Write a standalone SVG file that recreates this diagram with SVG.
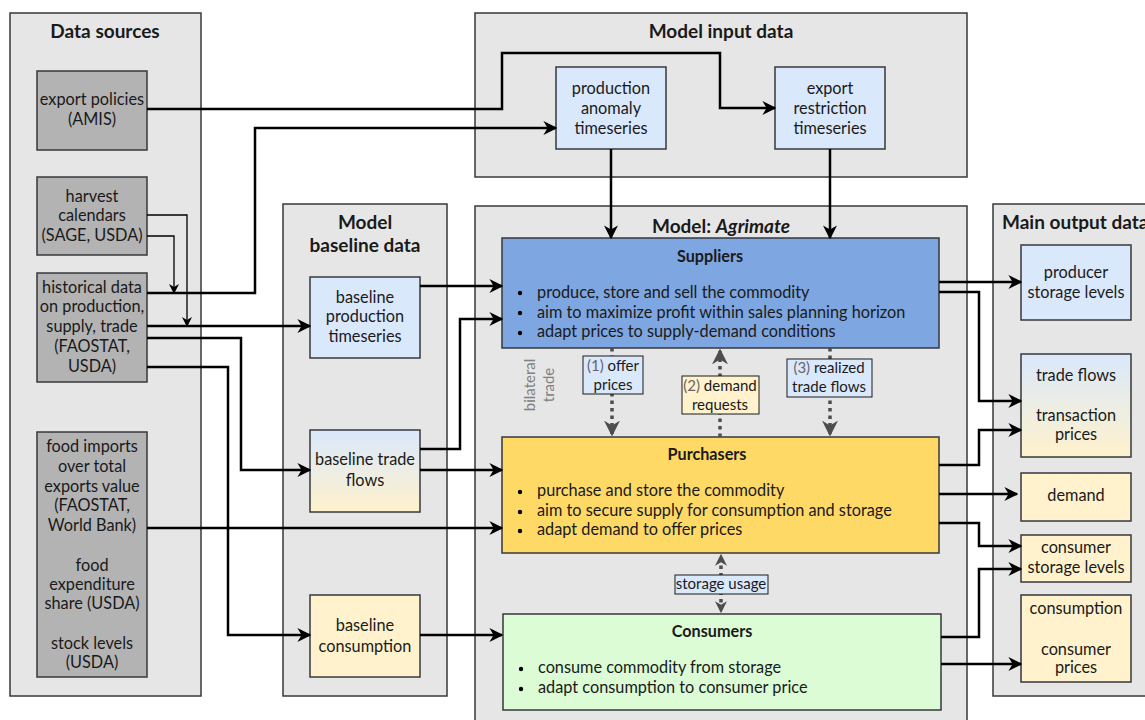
<svg xmlns="http://www.w3.org/2000/svg" width="1145" height="720" viewBox="0 0 1145 720">
<defs>
<linearGradient id="gbY" x1="0" y1="0" x2="0" y2="1"><stop offset="0" stop-color="#dae8fc"/><stop offset="1" stop-color="#fff2cc"/></linearGradient>
<marker id="ah" markerUnits="userSpaceOnUse" markerWidth="14" markerHeight="14" viewBox="0 0 10 10" refX="9" refY="5" orient="auto"><path d="M0,0 L10,5 L0,10 L3,5 z" fill="#000"/></marker>
<marker id="ahs" markerUnits="userSpaceOnUse" markerWidth="10" markerHeight="10" viewBox="0 0 10 10" refX="9" refY="5" orient="auto"><path d="M0,0 L10,5 L0,10 L3,5 z" fill="#000"/></marker>
<marker id="ahg" markerUnits="userSpaceOnUse" markerWidth="16" markerHeight="16" viewBox="0 0 10 10" refX="9" refY="5" orient="auto"><path d="M0,0 L10,5 L0,10 L3,5 z" fill="#4d4d4d"/></marker>
<marker id="ahg2" markerUnits="userSpaceOnUse" markerWidth="12" markerHeight="12" viewBox="0 0 10 10" refX="9" refY="5" orient="auto"><path d="M0,0 L10,5 L0,10 L3,5 z" fill="#4d4d4d"/></marker>
</defs>
<style>
text{font-family:Lato,"Liberation Sans",sans-serif;fill:#1a1a1a}
.c{fill:#e6e6e6;stroke:#36393d;stroke-width:1.5}
.t{font-size:19px;font-weight:bold;text-anchor:middle}
.n{font-size:16.3px;text-anchor:middle}
.g{fill:#b3b3b3;stroke:#36393d;stroke-width:1.5}
.b{fill:#dae8fc;stroke:#36393d;stroke-width:1.5}
.y{fill:#fff2cc;stroke:#36393d;stroke-width:1.5}
.gr{fill:url(#gbY);stroke:#36393d;stroke-width:1.5}
.h{font-size:16.2px;font-weight:bold;text-anchor:middle}
.bl{font-size:16.3px}
.lab{font-size:15px;text-anchor:middle}
.num{fill:#666}
.w{fill:none;stroke:#000;stroke-width:2.5;marker-end:url(#ah)}
.s{fill:none;stroke:#000;stroke-width:1.3;marker-end:url(#ahs)}
.d{fill:none;stroke:#4d4d4d;stroke-width:3.5;stroke-dasharray:3.5 4}
</style>

<g id="containers">
<rect class="c" x="10" y="13" width="191" height="683"/>
<text class="t" x="105" y="38">Data sources</text>
<rect class="c" x="283" y="204" width="164" height="492"/>
<text class="t" x="365" y="229">Model</text>
<text class="t" x="365" y="252">baseline data</text>
<rect class="c" x="475" y="13" width="492" height="164"/>
<text class="t" x="721" y="38">Model input data</text>
<rect class="c" x="475" y="206" width="492" height="530"/>
<text class="t" x="721" y="233">Model: <tspan font-style="italic">Agrimate</tspan></text>
<rect class="c" x="993" y="204" width="180" height="492"/>
<text class="t" x="1002" y="229" style="text-anchor:start">Main output data</text>
</g>

<g id="export-policies"><rect class="g" x="37" y="71" width="110" height="79"/>
<text class="n" x="92" y="105">export policies</text><text class="n" x="92" y="125">(AMIS)</text></g>
<g id="harvest-calendars"><rect class="g" x="37" y="177" width="110" height="78"/>
<text class="n" x="92" y="202">harvest</text><text class="n" x="92" y="221">calendars</text><text class="n" x="92" y="241">(SAGE, USDA)</text></g>
<g id="historical-data"><rect class="g" x="37" y="273" width="110" height="109"/>
<text class="n" x="92" y="293">historical data</text><text class="n" x="92" y="312">on production,</text><text class="n" x="92" y="332">supply, trade</text><text class="n" x="92" y="352">(FAOSTAT,</text><text class="n" x="92" y="372">USDA)</text></g>
<g id="food-imports"><rect class="g" x="37" y="432" width="110" height="245"/>
<text class="n" x="92" y="452">food imports</text><text class="n" x="92" y="472">over total</text><text class="n" x="92" y="492">exports value</text><text class="n" x="92" y="511">(FAOSTAT,</text><text class="n" x="92" y="531">World Bank)</text>
<text class="n" x="92" y="571">food</text><text class="n" x="92" y="590">expenditure</text><text class="n" x="92" y="609">share (USDA)</text>
<text class="n" x="92" y="649">stock levels</text><text class="n" x="92" y="668">(USDA)</text></g>

<g id="baseline-production"><rect class="b" x="310" y="277" width="110" height="81"/>
<text class="n" x="365" y="303">baseline</text><text class="n" x="365" y="322">production</text><text class="n" x="365" y="342">timeseries</text></g>
<g id="baseline-trade"><rect class="gr" x="310" y="430" width="110" height="82"/>
<text class="n" x="365" y="465">baseline trade</text><text class="n" x="365" y="486">flows</text></g>
<g id="baseline-consumption"><rect class="y" x="310" y="595" width="110" height="82"/>
<text class="n" x="365" y="631">baseline</text><text class="n" x="365" y="652">consumption</text></g>

<g id="production-anomaly"><rect class="b" x="556" y="67" width="110" height="82"/>
<text class="n" x="611" y="94">production</text><text class="n" x="611" y="114">anomaly</text><text class="n" x="611" y="134">timeseries</text></g>
<g id="export-restriction"><rect class="b" x="775" y="67" width="110" height="82"/>
<text class="n" x="830" y="94">export</text><text class="n" x="830" y="114">restriction</text><text class="n" x="830" y="134">timeseries</text></g>

<g id="suppliers"><rect x="502" y="238" width="437" height="110" fill="#7ea6e0" stroke="#36393d" stroke-width="1.5"/>
<text class="h" x="710" y="262">Suppliers</text>
<circle cx="520" cy="293" r="2.2" fill="#000"/><text class="bl" x="537" y="298">produce, store and sell the commodity</text>
<circle cx="520" cy="313" r="2.2" fill="#000"/><text class="bl" x="537" y="318">aim to maximize profit within sales planning horizon</text>
<circle cx="520" cy="333" r="2.2" fill="#000"/><text class="bl" x="537" y="337">adapt prices to supply-demand conditions</text></g>
<g id="purchasers"><rect x="502" y="437" width="437" height="116" fill="#ffd966" stroke="#36393d" stroke-width="1.5"/>
<text class="h" x="707" y="460">Purchasers</text>
<circle cx="520" cy="492" r="2.2" fill="#000"/><text class="bl" x="537" y="496">purchase and store the commodity</text>
<circle cx="520" cy="512" r="2.2" fill="#000"/><text class="bl" x="537" y="516">aim to secure supply for consumption and storage</text>
<circle cx="520" cy="531" r="2.2" fill="#000"/><text class="bl" x="537" y="535">adapt demand to offer prices</text></g>
<g id="consumers"><rect x="503" y="614" width="438" height="96" fill="#dcfcd6" stroke="#36393d" stroke-width="1.5"/>
<text class="h" x="712" y="637">Consumers</text>
<circle cx="521" cy="669" r="2.2" fill="#000"/><text class="bl" x="538" y="673">consume commodity from storage</text>
<circle cx="521" cy="689" r="2.2" fill="#000"/><text class="bl" x="538" y="693">adapt consumption to consumer price</text></g>

<g id="producer-storage"><rect class="b" x="1021" y="245" width="110" height="75"/>
<text class="n" x="1076" y="278">producer</text><text class="n" x="1076" y="298">storage levels</text></g>
<g id="trade-flows-out"><rect class="gr" x="1021" y="354" width="110" height="103"/>
<text class="n" x="1076" y="381">trade flows</text><text class="n" x="1076" y="421">transaction</text><text class="n" x="1076" y="440">prices</text></g>
<g id="demand"><rect class="y" x="1021" y="473" width="110" height="48"/>
<text class="n" x="1076" y="501">demand</text></g>
<g id="consumer-storage"><rect class="y" x="1021" y="535" width="110" height="47"/>
<text class="n" x="1076" y="553">consumer</text><text class="n" x="1076" y="573">storage levels</text></g>
<g id="consumption-out"><rect class="y" x="1021" y="595" width="110" height="87"/>
<text class="n" x="1076" y="614">consumption</text><text class="n" x="1076" y="655">consumer</text><text class="n" x="1076" y="673">prices</text></g>

<g id="connectors">
<path class="w" d="M147,109 H502 V53 H720 V108 H775"/>
<path class="w" d="M147,293 H255 V128 H556"/>
<path class="w" d="M147,326 H310"/>
<path class="w" d="M147,338 H241 V470 H310"/>
<path class="w" d="M147,367 H228 V635 H310"/>
<path class="w" d="M147,528 H502"/>
<path class="s" d="M147,215 H187 V326"/>
<path class="s" d="M147,236 H174 V293"/>
<path class="w" d="M420,286 H502"/>
<path class="w" d="M420,449 H460 V319 H502"/>
<path class="w" d="M420,470 H502"/>
<path class="w" d="M420,635 H502"/>
<path class="w" d="M611,149 V238"/>
<path class="w" d="M830,149 V238"/>
<path class="w" d="M939,282 H1021"/>
<path class="w" d="M939,292 H979 V401 H1021"/>
<path class="w" d="M939,465 H979 V430 H1021"/>
<path class="w" d="M939,494 H1017"/>
<path class="w" d="M939,523 H979 V546 H1021"/>
<path class="w" d="M941,637 H979 V569 H1021"/>
<path class="w" d="M941,664 H1021"/>
<path class="d" d="M612,348 V435" marker-end="url(#ahg)"/>
<path class="d" d="M720,437 V350" marker-end="url(#ahg)"/>
<path class="d" d="M830,348 V435" marker-end="url(#ahg)"/>
<path class="d" d="M721,584 V555" marker-end="url(#ahg2)"/>
<path class="d" d="M721,584 V612" marker-end="url(#ahg2)"/>
<g id="edge-labels">
<rect x="583" y="356" width="60" height="38" fill="#dae8fc" stroke="#1a1a1a" stroke-width="1"/>
<text class="lab" x="613" y="371"><tspan class="num">(1)</tspan> offer</text><text class="lab" x="613" y="390">prices</text>
<rect x="682" y="376" width="77" height="38" fill="#fff2cc" stroke="#1a1a1a" stroke-width="1"/>
<text class="lab" x="720" y="391"><tspan class="num">(2)</tspan> demand</text><text class="lab" x="720" y="410">requests</text>
<rect x="787" y="359" width="85" height="38" fill="#dae8fc" stroke="#1a1a1a" stroke-width="1"/>
<text class="lab" x="829" y="373"><tspan class="num">(3)</tspan> realized</text><text class="lab" x="829" y="392">trade flows</text>
<rect x="675" y="575" width="93" height="19" fill="#dae8fc" stroke="#1a1a1a" stroke-width="1"/>
<text class="lab" x="721" y="589">storage usage</text>
<text class="lab" x="535" y="385" transform="rotate(-90 535 385)" style="fill:#808080">bilateral</text>
<text class="lab" x="554" y="385" transform="rotate(-90 554 385)" style="fill:#808080">trade</text>
</g>
</g>
</svg>
